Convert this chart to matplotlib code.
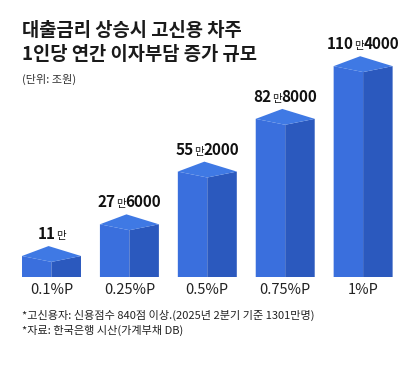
import matplotlib
matplotlib.use('Agg')
import matplotlib.pyplot as plt
from matplotlib.patches import Polygon
from matplotlib.offsetbox import TextArea, HPacker, AnnotationBbox

plt.rcParams['font.family'] = ['Noto Sans CJK KR', 'DejaVu Sans']

categories = ['0.1%P', '0.25%P', '0.5%P', '0.75%P', '1%P']
values = [11.0, 27.6, 55.2, 82.8, 110.4]          # 단위: 만원
label_main = ['11', '27', '55', '82', '110']
label_rest = ['', '6000', '2000', '8000', '4000']

title_lines = ['대출금리 상승시 고신용 차주', '1인당 연간 이자부담 증가 규모']
unit_text = '(단위: 조원)'
notes = ['*고신용자: 신용점수 840점 이상.(2025년 2분기 기준 1301만명)',
         '*자료: 한국은행 시산(가계부채 DB)']

c_left = '#3a6fdd'
c_right = '#2b59be'
c_top = '#3f79e4'

fig = plt.figure(figsize=(4.2, 3.86), dpi=100)
fig.patch.set_facecolor('white')
ax = fig.add_axes([0, 0, 1, 1])
ax.set_xlim(-0.661, 4.730)
ax.set_ylim(-57.07, 145.03)
ax.axis('off')

w = 0.757
back_up = 5.2
front_down = 3.1
for i, v in enumerate(values):
    x0 = i - w / 2
    x1 = i + w / 2
    xm = i
    xb = i - 0.05 * w
    ax.add_patch(Polygon([(x0, 0), (xm, 0), (xm, v - front_down), (x0, v)],
                         closed=True, facecolor=c_left, edgecolor='none'))
    ax.add_patch(Polygon([(xm, 0), (x1, 0), (x1, v), (xm, v - front_down)],
                         closed=True, facecolor=c_right, edgecolor='none'))
    ax.add_patch(Polygon([(x0, v), (xb, v + back_up), (x1, v), (xm, v - front_down)],
                         closed=True, facecolor=c_top, edgecolor='none'))

    parts = [TextArea(label_main[i], textprops=dict(fontsize=11, fontweight='bold', color='#111111')),
             TextArea('만', textprops=dict(fontsize=7.5, color='#111111'))]
    if label_rest[i]:
        parts.append(TextArea(label_rest[i], textprops=dict(fontsize=11, fontweight='bold', color='#111111')))
    pack = HPacker(children=parts, align='baseline', pad=0, sep=0)
    ab = AnnotationBbox(pack, (i, v), xybox=(0, 22), boxcoords='offset pixels',
                        frameon=False, box_alignment=(0.5, 0.5))
    ax.add_artist(ab)

    ax.annotate(categories[i], (i, 0), xytext=(0, -13), textcoords='offset pixels',
                ha='center', va='center', fontsize=10.5, color='#222222')

fig.text(0.052, 0.922, title_lines[0], fontsize=13.5, fontweight='heavy', color='#1a1a1a', va='center')
fig.text(0.052, 0.858, title_lines[1], fontsize=13.5, fontweight='heavy', color='#1a1a1a', va='center')
fig.text(0.052, 0.793, unit_text, fontsize=8, color='#333333', va='center')
fig.text(0.052, 0.184, notes[0], fontsize=8, color='#222222', va='center')
fig.text(0.052, 0.145, notes[1], fontsize=8, color='#222222', va='center')

fig.savefig('out.png', dpi=100, facecolor='white')
